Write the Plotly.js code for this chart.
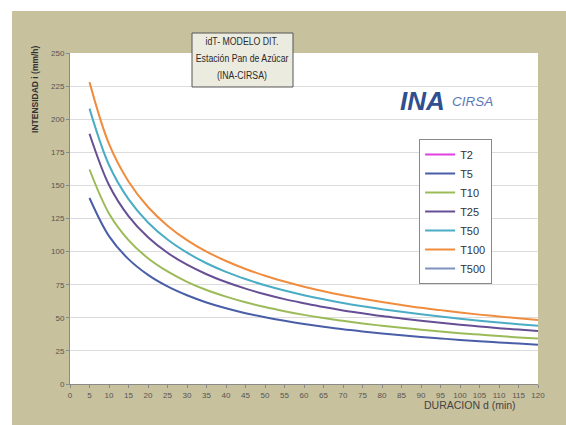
<!DOCTYPE html>
<html>
<head>
<meta charset="utf-8">
<script src="https://cdn.plot.ly/plotly-3.0.1.min.js"></script>
<style>
html,body{margin:0;padding:0;background:#ffffff;}
#chart{position:absolute;left:12px;top:11px;width:554px;height:414px;}
</style>
</head>
<body>
<div id="chart"></div>
<script>
const duracion = [5,10,15,20,25,30,35,40,45,50,55,60,65,70,75,80,85,90,95,100,105,110,115,120];
const T2 = [null];
const T5 = [140.5,111.7,94.3,82.4,73.7,67.0,61.6,57.2,53.5,50.4,47.7,45.3,43.2,41.3,39.7,38.2,36.8,35.5,34.4,33.3,32.3,31.4,30.5,29.7];
const T10 = [162,128.8,108.7,95.0,85.0,77.2,71.0,66.0,61.7,58.1,55.0,52.2,49.8,47.7,45.7,44.0,42.4,41.0,39.6,38.4,37.3,36.2,35.2,34.3];
const T25 = [189,150.3,126.8,110.8,99.1,90.1,82.9,77.0,72.0,67.8,64.1,61.0,58.1,55.6,53.4,51.3,49.5,47.8,46.2,44.8,43.5,42.2,41.1,40.0];
const T50 = [208,165.4,139.6,122.0,109.1,99.2,91.2,84.7,79.3,74.6,70.6,67.1,64.0,61.2,58.7,56.5,54.5,52.6,50.9,49.3,47.8,46.5,45.2,44.0];
const T100 = [228,181.3,153.0,133.7,119.6,108.7,100.0,92.9,86.9,81.8,77.4,73.5,70.1,67.1,64.4,61.9,59.7,57.6,55.8,54.0,52.4,51.0,49.6,48.3];
const T500 = [null];
const seriesNames = ["T2","T5","T10","T25","T50","T100","T500"];
const seriesData = [T2,T5,T10,T25,T50,T100,T500];
const seriesColors = ["#e040e0","#4a5ea8","#9bbb59","#674f95","#4bacc6","#f08c3e","#7f92bd"];
const xTicks = [0,5,10,15,20,25,30,35,40,45,50,55,60,65,70,75,80,85,90,95,100,105,110,115,120];
const yTicks = [0,25,50,75,100,125,150,175,200,225,250];
const titleLines = ["idT- MODELO DIT.","Estación Pan de Azúcar","(INA-CIRSA)"];

const traces = seriesNames.map((n,i)=>({
  type:'scatter', mode:'lines', name:n,
  x: duracion.slice(0, seriesData[i].length),
  y: seriesData[i],
  line:{color:seriesColors[i], width:2, shape:'spline'}
}));

const titleY = [1.036, 0.985, 0.934];
const titleAnns = titleLines.map((t,i)=>({
  xref:'paper', yref:'paper', x:0.3675, y:titleY[i], xanchor:'center', yanchor:'middle',
  text:t, showarrow:false, font:{size:11.5, color:'#2a2a2a'}
}));

const layout = {
  width:554, height:414,
  paper_bgcolor:'#c8c19d', plot_bgcolor:'#ffffff',
  margin:{l:58,r:28,t:42,b:41},
  font:{family:'"Liberation Sans", Arial, sans-serif', color:'#555555'},
  showlegend:true,
  legend:{x:0.746, y:0.74, xanchor:'left', yanchor:'top', bgcolor:'#ffffff',
          bordercolor:'#888888', borderwidth:1, font:{size:11, color:'#333333'},
          tracegroupgap:0},
  xaxis:{range:[0,120], tickvals:xTicks, ticktext:xTicks.map(String), showgrid:false,
         zeroline:false, showline:true, linecolor:'#8a8a8a', linewidth:1,
         ticks:'outside', ticklen:3, tickcolor:'#8a8a8a', tickfont:{size:8, color:'#555555'}},
  yaxis:{range:[0,250], tickvals:yTicks, ticktext:yTicks.map(String), showgrid:true,
         gridcolor:'#dcdcdc', gridwidth:1, zeroline:false, showline:true,
         linecolor:'#8a8a8a', linewidth:1, ticks:'outside', ticklen:3, tickcolor:'#8a8a8a',
         tickfont:{size:8, color:'#555555'}},
  shapes:[
    {type:'rect', xref:'paper', yref:'paper', x0:0.2607, x1:0.4765, y0:0.8973, y1:1.0604,
     fillcolor:'#ecebe0', line:{color:'#555555', width:1}, layer:'above'}
  ],
  annotations: titleAnns.concat([
    {xref:'paper', yref:'paper', x:0.70, y:0.855, xanchor:'left', yanchor:'middle',
     text:'<b><i>INA</i></b>', showarrow:false, font:{size:26, color:'#2f4f8f'}},
    {xref:'paper', yref:'paper', x:0.812, y:0.852, xanchor:'left', yanchor:'middle',
     text:'<i>CIRSA</i>', showarrow:false, font:{size:13.5, color:'#5b78b8'}},
    {xref:'paper', yref:'paper', x:-0.075, y:1.03, xanchor:'center', yanchor:'top',
     text:'<b>INTENSIDAD i (mm/h)</b>', textangle:-90, showarrow:false,
     font:{size:8.5, color:'#333333'}},
    {xref:'paper', yref:'paper', x:0.957, y:-0.063, xanchor:'right', yanchor:'middle',
     text:'DURACION d (min)', showarrow:false, font:{size:10.5, color:'#444444'}}
  ])
};
Plotly.newPlot('chart', traces, layout, {displayModeBar:false, staticPlot:true}).then(()=>{
  [0,1,2].forEach(i=>{
    document.querySelectorAll('.annotation[data-index="'+i+'"] text.annotation-text').forEach(el=>{
      el.style.transformBox = 'fill-box';
      el.style.transformOrigin = 'center';
      el.style.transform = 'scaleX(0.76)';
    });
  });
});
</script>
</body>
</html>
